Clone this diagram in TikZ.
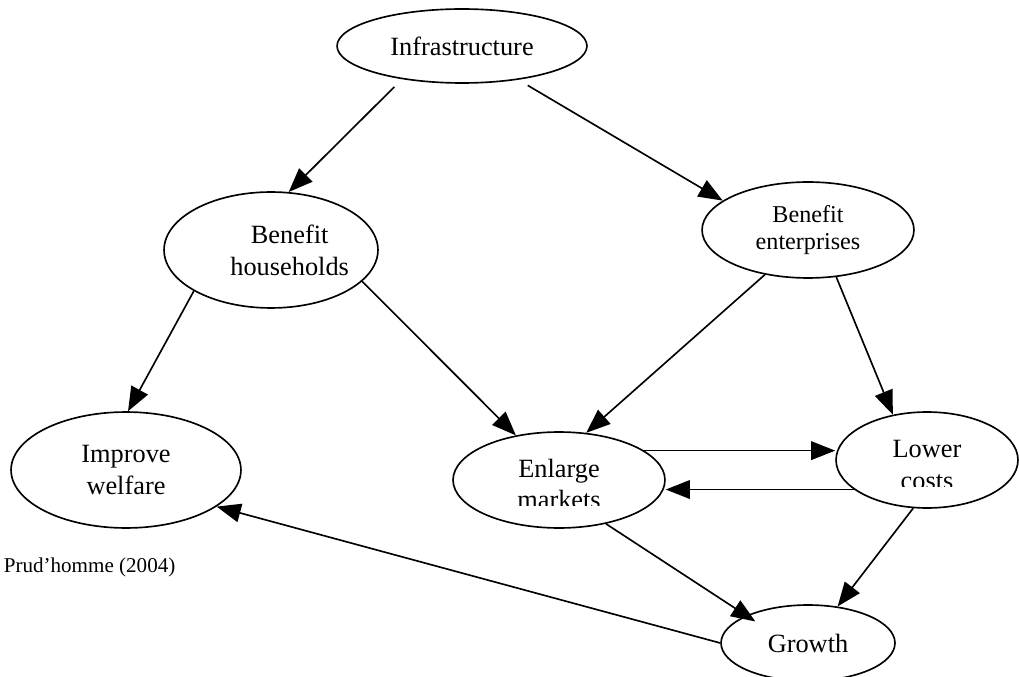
\documentclass[tikz,border=0pt]{standalone}
\usepackage{fontspec}
\setmainfont{Liberation Serif}
\usetikzlibrary{shapes.geometric,arrows.meta}

\begin{document}
\begin{tikzpicture}[x=0.016cm,y=-0.016cm,line width=0.75pt,
    bubble/.style={draw,ellipse,inner sep=0pt,align=center,font=\fontsize{12}{14.5}\selectfont},
    arr/.style={-{Triangle[length=11pt,width=8.5pt]}},
    textcut/.style={fill=white}]
    \useasboundingbox (0,0) rectangle (1019,677);
    \node[bubble,minimum width=4cm,minimum height=1.184cm] (inf) at (462,46) {Infrastructure};
    \node[bubble,minimum width=3.424cm,minimum height=1.856cm] (bh) at (271,250) {\makebox[0pt]{\hspace*{17pt}Benefit}\\\makebox[0pt]{\hspace*{17pt}households}};
    \node[bubble,minimum width=3.392cm,minimum height=1.536cm,font=\fontsize{11}{12.2}\selectfont] (be) at (808,230) {Benefit\\enterprises};
    \node[bubble,minimum width=3.68cm,minimum height=1.856cm] (iw) at (126,470) {Improve\\welfare};
    \node[bubble,minimum width=3.392cm,minimum height=1.536cm] (em) at (559,480) {\rule{0pt}{11.9pt}Enlarge\\markets};
    \node[bubble,minimum width=2.912cm,minimum height=1.536cm] (lc) at (927,460) {\rule{0pt}{12.5pt}Lower\\costs};
    \node[bubble,minimum width=2.784cm,minimum height=1.216cm] (gr) at (808,643) {Growth};
    \node[anchor=base west,inner sep=0pt,font=\fontsize{9.6}{11}\selectfont] (src) at (3,572) {Prud’homme (2004)};
    \fill[textcut] (em.center) ++(-50,26) rectangle ++(100,12);
    \fill[textcut] (lc.center) ++(-35,27) rectangle ++(70,12);
    \draw[arr,shorten <=5pt] (inf.-151) -- (bh.73);
    \draw[arr,shorten <=5pt] (inf.-31) -- (be.161);
    \foreach \a/\b in {bh.-152/iw.88,bh.-19/em.134,be.-134/em.60,be.-59/lc.127,lc.-106/gr.51,gr.west/iw.-22}
    \draw[arr] (\a) -- (\b);
    \draw[arr] (em.19) -- (em.19 -| lc.west);
    \draw[arr] (lc.-158) -- (lc.-158 -| em.east);
    \draw[arr,shorten >=-5pt] (em.-43) -- (gr.156);
\end{tikzpicture}
\end{document}
